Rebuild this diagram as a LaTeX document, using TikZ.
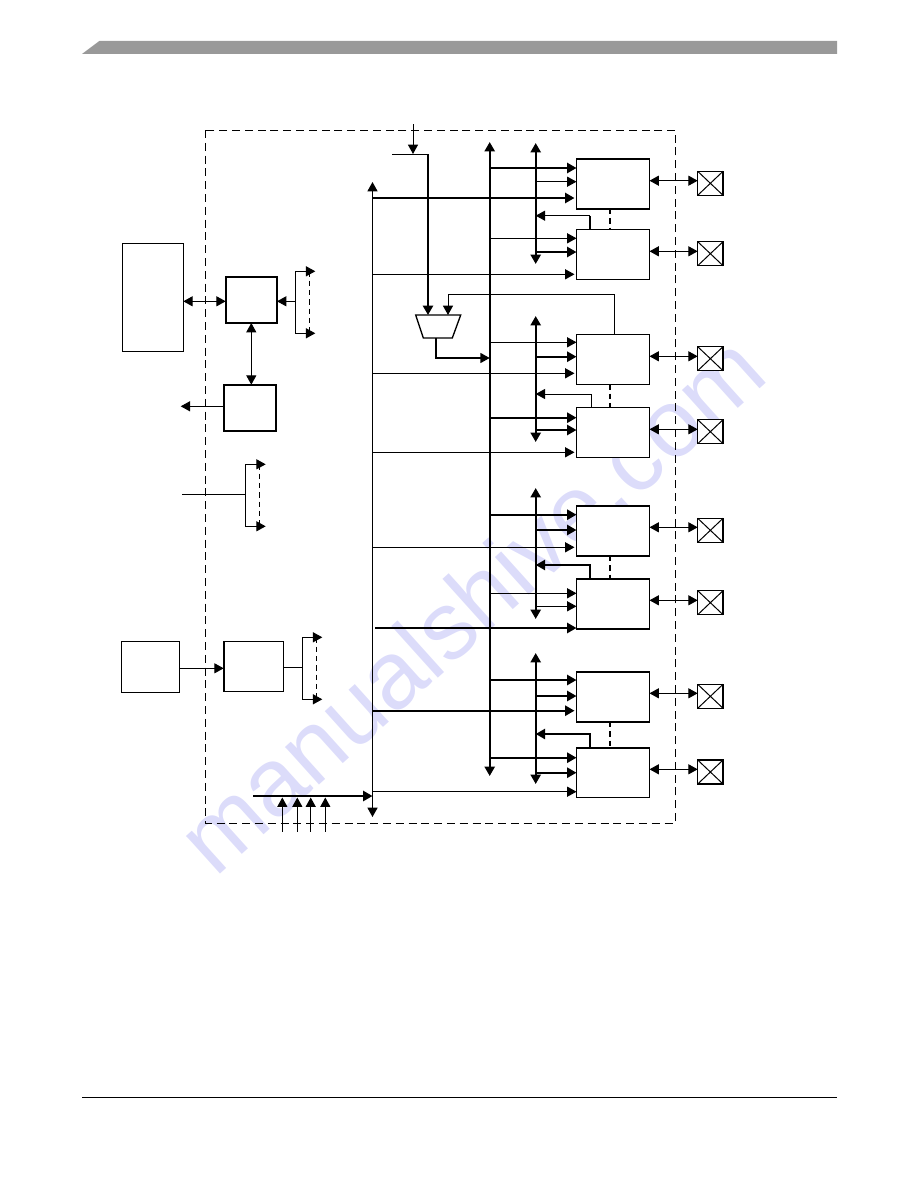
\documentclass[tikz,border=0pt]{standalone}
\usepackage{fontspec}
\setmainfont{Liberation Sans}
\usetikzlibrary{arrows.meta}
\definecolor{wm}{RGB}{220,220,250}
\definecolor{hdr}{RGB}{153,153,153}
\newcommand{\pxbox}[6]{\node[#2,anchor=north west,minimum width={(#5-#3)*0.75pt},minimum height={(#6-#4)*0.75pt}] (#1) at (#3,#4) {};}
\newcommand{\padat}[3]{\node[pad,anchor=north west] (#1) at (#2,#3) {};
  \draw[thn] (#1.north west) -- (#1.south east) (#1.north east) -- (#1.south west);}
\tikzset{
  tip/.style={-{Triangle[length=7pt,width=7.5pt]}},
  twotip/.style={{Triangle[length=7pt,width=7.5pt]}-{Triangle[length=7pt,width=7.5pt]}},
  thn/.style={line width=0.75pt},
  med/.style={line width=1.1pt},
  thk/.style={line width=1.7pt},
  blk/.style={draw,inner sep=0pt,outer sep=0pt,line width=0.8pt,fill=white},
  blkthick/.style={blk,line width=1.6pt},
  pad/.style={draw,inner sep=0pt,outer sep=0pt,line width=1.1pt,minimum width=19pt,minimum height=18pt,fill=white},
  frame/.style={dashed,dash pattern=on 6pt off 3.6pt,line width=0.7pt},
  link/.style={thk,dash pattern=on 4pt off 3pt},
  tick/.style={line width=0.7pt,dash pattern=on 4pt off 3pt},
  short/.style={shorten >=1.5pt},
}
\begin{document}
\begin{tikzpicture}[x=0.75pt,y=-0.75pt]
\useasboundingbox (0,0) rectangle (918,1188);
% page furniture
\fill[hdr] (82,54) -- (99.3,41) -- (837,41) -- (837,54) -- cycle;
\draw[line width=0.8pt] (82,1097.5) -- (837,1097.5);
% watermark
\node[text=wm,font=\fontsize{72pt}{72pt}\selectfont,rotate=42,inner sep=0pt] (wmark) at (470,603) {manualshive.com};
% frame
\draw[frame] (205.5,130) rectangle (675.3,823);

% page-side blocks
\pxbox{mem}{blk}{122.3}{243.3}{183.3}{351.3}
\pxbox{ctl}{blkthick}{225.7}{276.7}{277}{323}
\pxbox{dbg}{blkthick}{224.3}{384.7}{276}{431.3}
\pxbox{osc}{blk}{121.3}{641.3}{179.7}{692.3}
\pxbox{pll}{blk}{223.7}{641.3}{283.7}{691.3}
\draw[line width=1.6pt] (pll.north west) -- (pll.south west);

% channel blocks
\pxbox{b1}{blk}{576.5}{159}{649.5}{209}
\draw[line width=1.6pt] (b1.north west) -- (b1.north east) (b1.south west) -- (b1.south east);
\pxbox{b2}{blk}{576.5}{229.3}{649.5}{279.3}
\pxbox{b3}{blk}{576.5}{334.3}{649.5}{384.3}
\pxbox{b4}{blk}{576.5}{407.3}{649.5}{457.3}
\pxbox{b5}{blk}{576.5}{505.7}{649.5}{556}
\draw[line width=1.3pt] (b5.north west) rectangle (b5.south east);
\pxbox{b6}{blk}{576.5}{578.7}{649.5}{629}
\draw[line width=1.3pt] (b6.north west) rectangle (b6.south east);
\pxbox{b7}{blk}{576.5}{671.7}{649.5}{722}
\draw[line width=1.3pt] (b7.north west) rectangle (b7.south east);
\pxbox{b8}{blk}{576.5}{747.7}{649.5}{797.3}
\draw[line width=1.3pt] (b8.north west) -- (b8.north east);

% pads
\padat{p1}{697.7}{171.3}
\padat{p2}{697.7}{241.7}
\padat{p3}{697.7}{346.7}
\padat{p4}{697.7}{419.7}
\padat{p5}{697.7}{518.3}
\padat{p6}{697.7}{590.7}
\padat{p7}{697.7}{684.3}
\padat{p8}{697.7}{760}

% bus coordinates
\coordinate (sys) at (372.5,0);
\coordinate (main) at (489.7,0);
\coordinate (aux) at (535.7,0);

% buses
\draw[thk,twotip] (main |- 0,142) -- (main |- 0,776);
\draw[line width=1pt,twotip] (sys |- 0,182) -- (sys |- 0,817);
\draw[thk,twotip] (aux |- 0,143) -- (aux |- 0,264);
\draw[thk,twotip] (aux |- 0,316) -- (aux |- 0,442);
\draw[thk,twotip] (aux |- 0,488) -- (aux |- 0,619);
\draw[thk,twotip] (aux |- 0,653) -- (aux |- 0,784);

% mux
\coordinate (mtl) at (415.7,315);
\coordinate (mtr) at (460.7,315);
\coordinate (mbl) at (423.3,338);
\coordinate (mbr) at (452.3,338);
\draw[line width=1pt] (mtl) -- (mtr) -- (mbr) -- (mbl) -- cycle;
\coordinate (ext) at (413,124);
\coordinate (extj) at (413,154);
\coordinate (extl) at (392,154);
\coordinate (extr) at (428,154);
\draw[thn,tip] (ext) -- (extj);
\draw[thn] (extl) -- (extr);
\draw[thk,tip] (extr) -- (428,315);
\draw[thn,tip] (b3.north west -| 614.7,0) -- (614.7,294) -- (448,294) -- (448,315);
\draw[med,tip] (436,338) -- (436,358) -- (main |- 0,358);

% b1
\draw[thk,tip] (main |- 0,168) -- (b1.west |- 0,168);
\draw[thn,tip] (aux |- 0,181.7) -- (b1.west |- 0,181.7);
\draw[thk,tip,short] (sys |- 0,198) -- (b1.west |- 0,198);
% b2
\draw[thn,tip] (main |- 0,238.3) -- (b2.west |- 0,238.3);
\draw[thk,tip] (aux |- 0,252) -- (b2.west |- 0,252);
\draw[thn,tip,short] (sys |- 0,274.3) -- (b2.west |- 0,274.3);
\draw[thk] (590,229.3) -- (590,215.7);
\draw[thn,tip] (590,215.7) -- (aux |- 0,215.7);
% b3
\draw[thn,tip] (main |- 0,342.3) -- (b3.west |- 0,342.3);
\draw[thk,tip] (aux |- 0,356.7) -- (b3.west |- 0,356.7);
\draw[thn,tip,short] (sys |- 0,373.3) -- (b3.west |- 0,373.3);
% b4
\draw[thk,tip] (main |- 0,417.7) -- (b4.west |- 0,417.7);
\draw[thk,tip] (aux |- 0,430) -- (b4.west |- 0,430);
\draw[thn,tip,short] (sys |- 0,452.3) -- (b4.west |- 0,452.3);
\draw[thn,tip] (591.7,407.3) -- (591.7,394) -- (aux |- 0,394);
% b5
\draw[thk,tip] (main |- 0,514.7) -- (b5.west |- 0,514.7);
\draw[thk,tip] (aux |- 0,530) -- (b5.west |- 0,530);
\draw[thn,tip,short] (sys |- 0,547.3) -- (b5.west |- 0,547.3);
% b6
\draw[thn,tip] (main |- 0,593.3) -- (b6.west |- 0,593.3);
\draw[thn,tip] (aux |- 0,606.3) -- (b6.west |- 0,606.3);
\draw[thk,tip] (375.3,628) -- (b6.west |- 0,628);
\draw[thk,tip] (590,578.7) -- (590,565) -- (aux |- 0,565);
% b7
\draw[thk,tip] (main |- 0,680) -- (b7.west |- 0,680);
\draw[thk,tip] (aux |- 0,696) -- (b7.west |- 0,696);
\draw[thk,tip,short] (sys |- 0,710.7) -- (b7.west |- 0,710.7);
% b8
\draw[thk,tip] (main |- 0,757.7) -- (b8.west |- 0,757.7);
\draw[thk,tip] (aux |- 0,772.7) -- (b8.west |- 0,772.7);
\draw[thn,tip] (sys |- 0,791.7) -- (b8.west |- 0,791.7);
\draw[thk,tip] (590,747.7) -- (590,734) -- (aux |- 0,734);

% dashed links between channels
\draw[link] (610,209) -- (610,229.3);
\draw[link] (610,384.3) -- (610,407.3);
\draw[link] (610,556) -- (610,578.7);
\draw[link] (610,722) -- (610,747.7);

% block to pad
\draw[thn,twotip] (b1.east |- 0,180.7) -- (p1.west |- 0,180.7);
\draw[thn,twotip] (b2.east |- 0,251.3) -- (p2.west |- 0,251.3);
\draw[thn,twotip] (b3.east |- 0,356.3) -- (p3.west |- 0,356.3);
\draw[thn,twotip] (b4.east |- 0,429.3) -- (p4.west |- 0,429.3);
\draw[thn,twotip] (b5.east |- 0,527.3) -- (p5.west |- 0,527.3);
\draw[thn,twotip] (b6.east |- 0,600.3) -- (p6.west |- 0,600.3);
\draw[thn,twotip] (b7.east |- 0,693.3) -- (p7.west |- 0,693.3);
\draw[thn,twotip] (b8.east |- 0,769.3) -- (p8.west |- 0,769.3);

% left side connectors
\draw[thn,twotip] (mem.east |- 0,301.3) -- (ctl.west |- 0,301.3);
\draw[thn,tip] (295.7,301.3) -- (ctl.east |- 0,301.3);
\draw[thn,tip] (295.7,301.3) -- (295.7,271.3) -- (315.3,271.3);
\draw[thn,tip] (295.7,301.3) -- (295.7,333.3) -- (315.3,333.3);
\draw[tick] (309.7,271.3) -- (309.7,333.3);
\draw[thn,twotip] (ctl.south -| 251.3,0) -- (dbg.north -| 251.3,0);
\coordinate (dbgout) at (180.7,406.3);
\draw[thn,tip] (dbg.west |- dbgout) -- (dbgout);
\coordinate (clkin) at (182,494.3);
\draw[thn] (clkin) -- (245.3,494.3);
\draw[thn,tip] (245.3,494.3) -- (245.3,464.3) -- (265.7,464.3);
\draw[thn,tip] (245.3,494.3) -- (245.3,526.3) -- (265.7,526.3);
\draw[tick] (259.3,464.3) -- (259.3,526.3);
\draw[thn,tip] (osc.east |- 0,668.3) -- (pll.west |- 0,668.3);
\draw[thn] (pll.east |- 0,667.3) -- (302.3,667.3);
\draw[thn,tip] (302.3,667.3) -- (302.3,637.3) -- (322.3,637.3);
\draw[thn,tip] (302.3,667.3) -- (302.3,699.3) -- (322.3,699.3);
\draw[tick] (316.3,637.3) -- (316.3,699.3);

% bottom inputs
\coordinate (busin) at (253.3,796);
\draw[thk,tip] (busin) -- (sys |- busin);
\draw[thn,tip] (282.3,831.7) -- (282.3,797.5);
\draw[thn,tip] (297.3,831.7) -- (297.3,797.5);
\draw[thn,tip] (310.7,831.7) -- (310.7,797.5);
\draw[thn,tip] (325.3,831.7) -- (325.3,797.5);
\end{tikzpicture}
\end{document}
